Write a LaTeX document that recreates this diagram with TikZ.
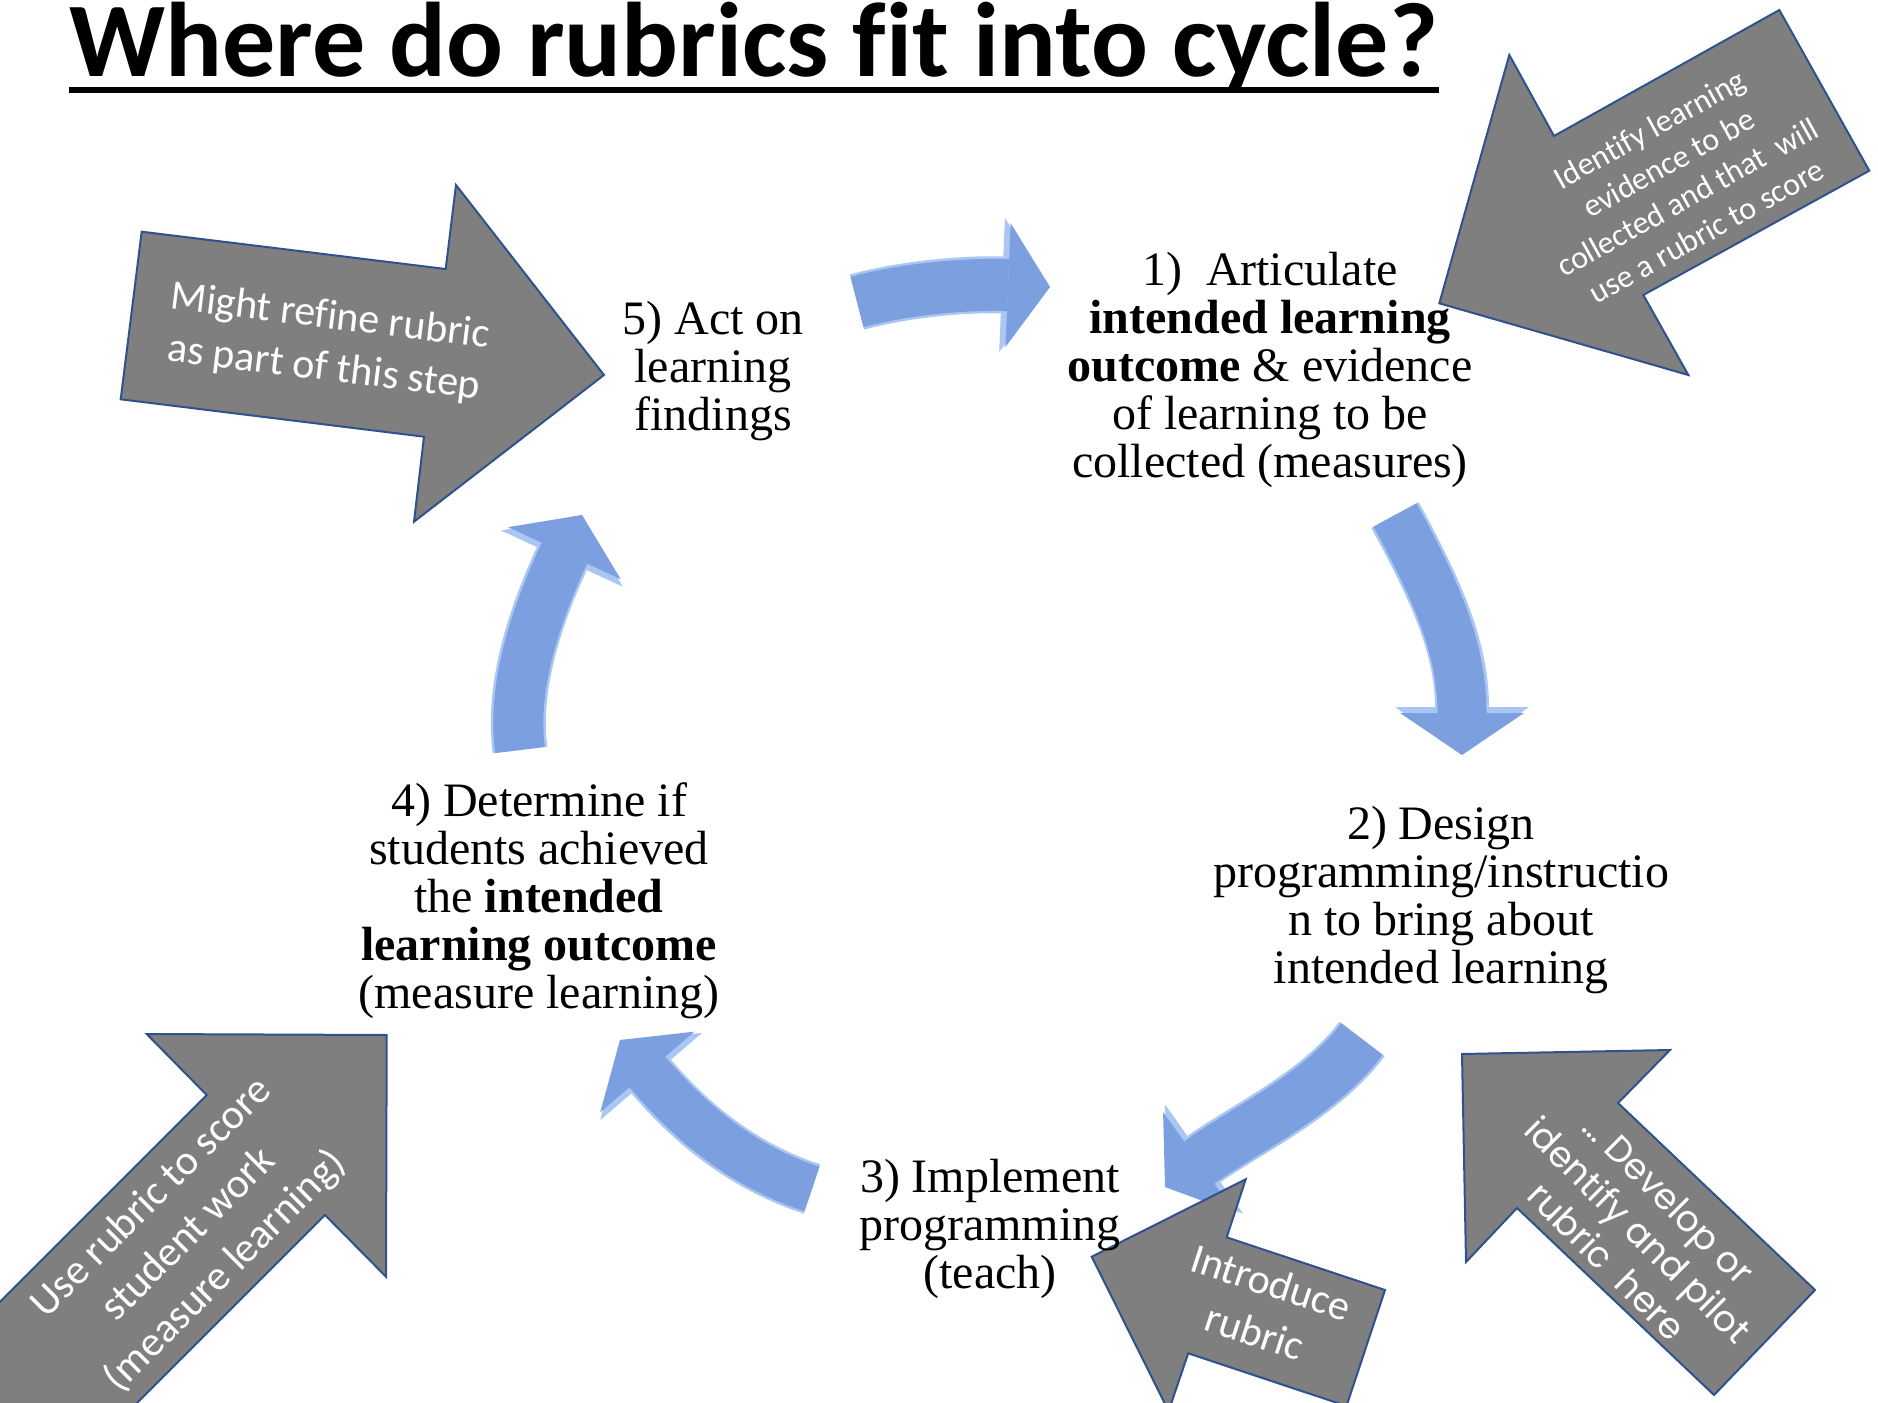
\documentclass[tikz,border=0pt]{standalone}
\usepackage{fontspec}
\setmainfont{Liberation Serif}
\newfontfamily\calibri[Ligatures=CommonOff]{Carlito}
\newfontfamily\poppins[Ligatures=CommonOff]{Poppins}
\usetikzlibrary{arrows.meta}

\definecolor{boxgray}{RGB}{127,127,127}
\definecolor{edgeblue}{RGB}{47,82,143}
\definecolor{cycleblue}{RGB}{124,159,223}
\definecolor{cyclelight}{RGB}{170,198,242}

\begin{document}
\begin{tikzpicture}[x=0.5pt, y=-0.5pt,
  stage/.style={align=center, inner sep=0pt, font=\fontsize{24}{24}\selectfont},
  callout/.style={fill=boxgray, draw=edgeblue, line width=1pt, line join=miter},
  note/.style={align=center, inner sep=0pt, text=white, font=\calibri\fontsize{21}{26}\selectfont},
  turn/.style={preaction={draw=cyclelight, line width=#1+2.5pt, -{Triangle[width=67pt, length=24pt, line width=0pt]}},
    draw=cycleblue, line width=#1, -{Triangle[width=62pt, length=21pt, line width=0pt]}}]
\useasboundingbox (0,0) rectangle (1878,1402);
\clip (0,0) rectangle (1878,1402);

% title
\node[anchor=base west, inner sep=0pt, font=\calibri\bfseries\fontsize{53}{60}\selectfont] (title) at (69,77) {Where do rubrics fit into cycle?};
\fill ([yshift=-5pt]title.base west) rectangle ([yshift=-8pt]title.base east);

% cycle arrows
\coordinate (out5) at (857,302);   \coordinate (in1) at (1050,287);
\coordinate (out1) at (1395,515);  \coordinate (in2) at (1462,755);
\coordinate (out2) at (1362,1039); \coordinate (in3) at (1165,1187);
\coordinate (out3) at (812,1189);  \coordinate (in4) at (620,1040);
\coordinate (out4) at (520,750);   \coordinate (in5) at (582,515);

\draw[turn=26pt] (out5) .. controls (917,286) and (980,284) .. (in1);
\draw[turn=24.5pt] (out1) .. controls (1433,585) and (1462,645) .. (in2);
\draw[turn=26pt] (out2) .. controls (1320,1095) and (1246,1129) .. (in3);
\draw[turn=23.5pt] (out3) .. controls (736,1164) and (685,1116) .. (in4);
\draw[turn=25pt] (out4) .. controls (511,681) and (540,606) .. (in5);

% grey block arrows
\draw[callout] (141.7,231.7) -- (445.7,269) -- (456,185) -- (604,375) -- (414,521.7) -- (424,436.7) -- (120.7,399.3) -- cycle;
\draw[callout] (1439.3,303.3) -- (1509.3,55) -- (1554,136) -- (1779.3,10) -- (1869.3,170.7) -- (1643.3,295) -- (1688.3,375) -- cycle;
\draw[callout] (1462,1054) -- (1670,1050) -- (1618,1103) -- (1815,1290) -- (1714,1395) -- (1517,1208) -- (1466,1262) -- cycle;
\draw[callout] (1091.7,1256.7) -- (1245.7,1179.3) -- (1226.7,1237.3) -- (1385,1290) -- (1346.5,1406) -- (1188.2,1353.3) -- (1168.6,1411.1) -- cycle;
\draw[callout] (386.7,1035) -- (386,1276.7) -- (325,1215) -- (25,1515) -- (-93.3,1395) -- (206.7,1095) -- (146.7,1034) -- cycle;

\node[note, rotate=-7] (refine) at (327,343) {Might refine rubric\\as part of this step};
\node[note, rotate=29, font=\calibri\fontsize{16}{19.5}\selectfont] (identify) at (1678,180) {Identify learning\\evidence to be\\collected and that~ will\\use a rubric to score};
\node[note, rotate=-45, font=\poppins\fontsize{18}{22}\selectfont] (develop) at (1638,1230) {…~Develop or\\identify and pilot\\rubric~ here};
\node[note, rotate=-18] (introduce) at (1263,1307) {Introduce\\rubric};
\node[note, rotate=45] (score) at (189,1235) {Use rubric to score\\student work\\(measure learning)};

% stages
\node[stage] (s1) at (1270,370) {1)~ Articulate\\\textbf{intended learning}\\\textbf{outcome} \& evidence\\of learning to be\\collected (measures)};
\node[stage] (s2) at (1441,900) {2) Design\\programming/instructio\\n to bring about\\intended learning};
\node[stage] (s3) at (990,1229) {3) Implement\\programming\\(teach)};
\node[stage] (s4) at (539,901) {4) Determine if\\students achieved\\the \textbf{intended}\\\textbf{learning outcome}\\(measure learning)};
\node[stage] (s5) at (713,371) {5) Act on\\learning\\findings};
\end{tikzpicture}
\end{document}
